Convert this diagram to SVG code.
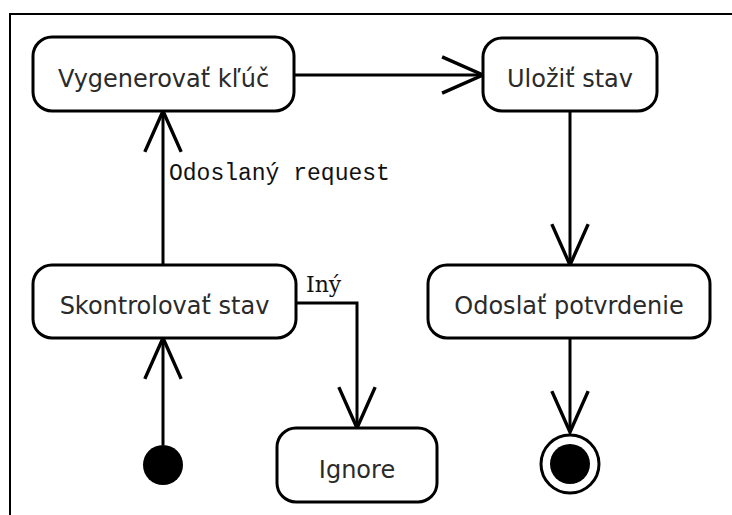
<svg xmlns="http://www.w3.org/2000/svg" width="732" height="515" viewBox="0 0 732 515">
<defs>
<style>
.node rect{fill:#fff;stroke:#000;stroke-width:3}
.node text{font-family:"DejaVu Sans",sans-serif;font-size:24px;fill:#2a2a2a;text-anchor:middle}
.edge{fill:none;stroke:#000;stroke-width:3}
.lbl{font-family:"Liberation Mono",monospace;font-size:23px;fill:#111}
.lbl2{font-family:"DejaVu Serif",serif;font-size:22px;fill:#111}
</style>
<marker id="arr" markerUnits="userSpaceOnUse" markerWidth="50" markerHeight="50" viewBox="-40 -20 44 40" refX="0" refY="0" orient="auto">
<path d="M-36,-16 L0,0 L-36,16" fill="none" stroke="#000" stroke-width="3"/>
</marker>
</defs>
<rect width="732" height="515" fill="#fff"/>
<path d="M10,515 V14 H732" fill="none" stroke="#000" stroke-width="2"/>
<g id="connectors">
<path class="edge" d="M294,75 H483" marker-end="url(#arr)"/>
<path class="edge" d="M570,111 V265" marker-end="url(#arr)"/>
<path class="edge" d="M163,265 V111" marker-end="url(#arr)"/>
<path class="edge" d="M163,445 V338" marker-end="url(#arr)"/>
<path class="edge" d="M296,303 H357 V428" marker-end="url(#arr)"/>
<path class="edge" d="M570,338 V432" marker-end="url(#arr)"/>
<text class="lbl" x="169" y="180">Odoslaný request</text>
<text class="lbl2" x="306" y="292">Iný</text>
</g>
<g id="vygenerovat" class="node">
<rect x="33" y="37" width="261" height="74" rx="19"/>
<text x="163.5" y="87">Vygenerovať kľúč</text>
</g>
<g id="ulozit" class="node">
<rect x="483" y="38" width="174" height="73" rx="19"/>
<text x="570" y="87">Uložiť stav</text>
</g>
<g id="skontrolovat" class="node">
<rect x="33" y="265" width="263" height="73" rx="19"/>
<text x="164.5" y="314">Skontrolovať stav</text>
</g>
<g id="odoslat" class="node">
<rect x="428" y="265" width="282" height="73" rx="19"/>
<text x="569" y="314">Odoslať potvrdenie</text>
</g>
<g id="ignore" class="node">
<rect x="277" y="428" width="160" height="74" rx="19"/>
<text x="357" y="478">Ignore</text>
</g>
<g id="start">
<circle cx="163" cy="465" r="20" fill="#000"/>
</g>
<g id="end">
<circle cx="570" cy="464" r="29" fill="#fff" stroke="#000" stroke-width="3"/>
<circle cx="570" cy="464" r="20" fill="#000"/>
</g>
</svg>
